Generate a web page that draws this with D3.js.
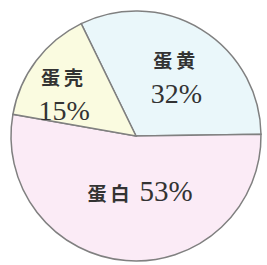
<!DOCTYPE html>
<head>
    <meta charset="utf-8">
    <title>蛋的组成</title>
    <script src="https://d3js.org/d3.v7.min.js"></script>
    <style>
        body { margin: 0; background: #fff; }
    </style>
</head>
<body>
    <script>
        const categories = ["蛋黄", "蛋白", "蛋壳"]
        const values = [32, 53, 15]
        const colors = ["#eaf7fa", "#fbebf6", "#fafbe0"]

        const width = 267
        const height = 265
        const cx = 136, cy = 136
        const radius = 125

        const data = categories.map((c, i) => ({ name: c, value: values[i], color: colors[i] }))

        const vis = d3.select("body").append("svg")
            .attr("width", width)
            .attr("height", height)

        const g = vis.append("g").attr("transform", `translate(${cx}, ${cy})`)

        const startAngle = -26 * Math.PI / 180
        const pie = d3.pie()
            .sort(null)
            .value((d) => d.value)
            .startAngle(startAngle)
            .endAngle(startAngle + 2 * Math.PI)

        const arc = d3.arc().innerRadius(0).outerRadius(radius)
        const labelArc = d3.arc().innerRadius(radius * 0.6).outerRadius(radius * 0.6)

        const arcs = pie(data)

        g.selectAll("path")
            .data(arcs)
            .join("path")
                .attr("d", arc)
                .attr("fill", (d) => d.data.color)
                .attr("stroke", "#808080")
                .attr("stroke-width", 1.5)

        // nudge labels off the centroid a bit
        const nudge = { "蛋黄": [1, 8], "蛋白": [10, -10], "蛋壳": [-12, 6] }
        const labels = g.append("g").attr("fill", "#333")

        arcs.forEach((d) => {
            const [x0, y0] = labelArc.centroid(d)
            const [nx, ny] = nudge[d.data.name]
            const t = labels.append("text")
                .attr("text-anchor", "middle")
                .attr("transform", `translate(${x0 + nx}, ${y0 + ny})`)
            if (d.data.name === "蛋白") {
                t.append("tspan")
                    .attr("font-family", "Noto Sans CJK SC")
                    .attr("font-weight", "bold")
                    .attr("font-size", 19)
                    .attr("letter-spacing", 4)
                    .text(d.data.name)
                t.append("tspan")
                    .attr("dx", 6)
                    .attr("font-family", "Liberation Serif")
                    .attr("font-size", 29)
                    .text(d.data.value + "%")
            } else {
                t.append("tspan")
                    .attr("x", 0)
                    .attr("dy", -12)
                    .attr("font-family", "Noto Sans CJK SC")
                    .attr("font-weight", "bold")
                    .attr("font-size", 19)
                    .attr("letter-spacing", 4)
                    .text(d.data.name)
                t.append("tspan")
                    .attr("x", 0)
                    .attr("dy", 35)
                    .attr("font-family", "Liberation Serif")
                    .attr("font-size", 28)
                    .text(d.data.value + "%")
            }
        })
    </script>
</body>
